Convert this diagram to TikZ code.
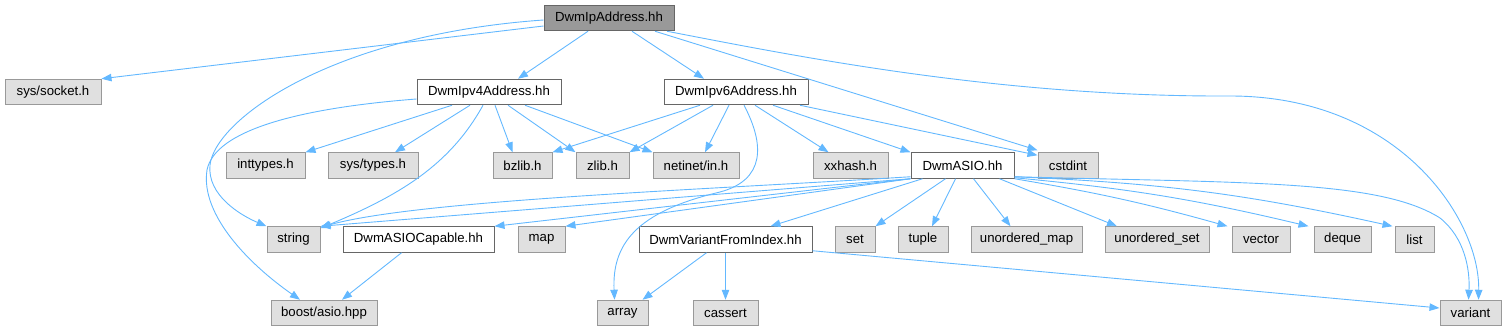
\documentclass[tikz,border=0pt]{standalone}
\usepackage{fontspec}
\setmainfont{Liberation Sans}
\usetikzlibrary{arrows.meta}
\definecolor{edgeblue}{HTML}{63B8FF}
\definecolor{grayfill}{HTML}{E0E0E0}
\definecolor{grayline}{HTML}{999999}
\definecolor{darkline}{HTML}{666666}
\definecolor{mainfill}{HTML}{999999}
\begin{document}
\begin{tikzpicture}[x=1pt,y=-1pt,
  box/.style={rectangle,inner sep=0pt,minimum height=25.5pt,line width=1pt,font=\fontsize{13.2}{15}\selectfont},
  sysbox/.style={box,fill=grayfill,draw=grayline},
  ownbox/.style={box,fill=white,draw=darkline},
  mainbox/.style={box,fill=mainfill,draw=darkline},
  e/.style={draw=edgeblue,line width=0.9pt,-{Triangle[length=10pt,width=7.5pt,fill=edgeblue]}}
]
\useasboundingbox (0,0) rectangle (1506,331);
% row 0
\node[mainbox,minimum width=130pt] (ipa) at (609,18) {DwmIpAddress.hh};
% row 1
\node[sysbox,minimum width=96pt] (sock) at (53,92) {sys/socket.h};
\node[ownbox,minimum width=144pt] (ipv4) at (489,92) {DwmIpv4Address.hh};
\node[ownbox,minimum width=144pt] (ipv6) at (736,92) {DwmIpv6Address.hh};
% row 2
\node[sysbox,minimum width=79pt] (int) at (265.5,165.5) {inttypes.h};
\node[sysbox,minimum width=90pt] (styp) at (373,165.5) {sys/types.h};
\node[sysbox,minimum width=59pt] (bz) at (522.5,165.5) {bzlib.h};
\node[sysbox,minimum width=53pt] (zl) at (602.5,165.5) {zlib.h};
\node[sysbox,minimum width=86pt] (net) at (696,165.5) {netinet/in.h};
\node[sysbox,minimum width=75pt] (xx) at (850.5,165.5) {xxhash.h};
\node[ownbox,minimum width=103pt] (asio) at (962.5,165.5) {DwmASIO.hh};
\node[sysbox,minimum width=60pt] (cst) at (1068,165.5) {cstdint};
% row 3
\node[sysbox,minimum width=53pt] (str) at (293.5,239.5) {string};
\node[ownbox,minimum width=151pt] (cap) at (418.5,239.5) {DwmASIOCapable.hh};
\node[sysbox,minimum width=47pt] (map) at (541.5,239.5) {map};
\node[ownbox,minimum width=173pt] (vfi) at (725.5,239.5) {DwmVariantFromIndex.hh};
\node[sysbox,minimum width=40pt] (set) at (855,239.5) {set};
\node[sysbox,minimum width=50pt] (tup) at (923,239.5) {tuple};
\node[sysbox,minimum width=111pt] (umap) at (1026.5,239.5) {unordered\_map};
\node[sysbox,minimum width=104pt] (uset) at (1157,239.5) {unordered\_set};
\node[sysbox,minimum width=58pt] (vec) at (1261,239.5) {vector};
\node[sysbox,minimum width=57pt] (deq) at (1342.5,239.5) {deque};
\node[sysbox,minimum width=39pt] (lst) at (1414.5,239.5) {list};
% row 4
\node[sysbox,minimum width=106pt] (boost) at (324,313) {boost/asio.hpp};
\node[sysbox,minimum width=51pt] (arr) at (622.5,313) {array};
\node[sysbox,minimum width=65pt] (cas) at (725.5,313) {cassert};
\node[sysbox,minimum width=61pt] (var) at (1470.5,313) {variant};

% edges from DwmIpAddress.hh
\draw[e] ([yshift=-8pt]ipa.west) -- (sock.north east);
\draw[e] ([yshift=-2pt]ipa.west) .. controls (330,35) and (215,120) .. (210,165) .. controls (207,195) and (240,215) .. (str.north west);
\draw[e] ([xshift=-21pt]ipa.south) -- ([xshift=29pt]ipv4.north);
\draw[e] ([xshift=23pt]ipa.south) -- ([xshift=-32pt]ipv6.north);
\draw[e] ([xshift=46pt]ipa.south) -- ([yshift=2pt]cst.north west);
\draw[e] ([xshift=58pt]ipa.south) .. controls (800,57) and (1000,97) .. (1230,96) .. controls (1400,96) and (1480,220) .. ([xshift=8pt]var.north);
% edges from DwmIpv4Address.hh
\draw[e] ([yshift=-7pt]ipv4.west) .. controls (300,108) and (215,130) .. (207,170) .. controls (200,215) and (250,265) .. ([xshift=-24pt]boost.north);
\draw[e] ([xshift=-37pt]ipv4.south) -- (int.north east);
\draw[e] ([xshift=-19pt]ipv4.south) -- ([xshift=22pt]styp.north);
\draw[e] ([xshift=-6pt]ipv4.south) .. controls (450,165) and (400,195) .. ([yshift=-2pt]str.north east);
\draw[e] ([xshift=6pt]ipv4.south) -- ([xshift=-10pt]bz.north);
\draw[e] ([xshift=19pt]ipv4.south) -- (zl.north west);
\draw[e] ([xshift=36pt]ipv4.south) -- (net.north west);
% edges from DwmIpv6Address.hh
\draw[e] ([xshift=-36pt]ipv6.south) -- (bz.north east);
\draw[e] ([xshift=-23pt]ipv6.south) -- (zl.north east);
\draw[e] ([xshift=-7pt]ipv6.south) -- ([xshift=9pt]net.north);
\draw[e] ([xshift=8pt]ipv6.south) .. controls (765,145) and (765,180) .. (720,192) .. controls (635,212) and (612,245) .. ([xshift=-8pt]arr.north);
\draw[e] ([xshift=19pt]ipv6.south) -- ([xshift=-22pt]xx.north);
\draw[e] ([xshift=37pt]ipv6.south) -- (asio.north west);
\draw[e] ([xshift=64pt]ipv6.south) -- ([yshift=-3pt]cst.north west);
% edges from DwmASIO.hh
\draw[e] ([yshift=2pt]asio.south west) .. controls (700,190) and (420,200) .. ([yshift=-1pt]str.north east);
\draw[e] (asio.south west) -- (str.north east);
\draw[e] (asio.south west) -- (cap.north east);
\draw[e] (asio.south west) -- (map.north east);
\draw[e] ([xshift=-40pt]asio.south) -- ([xshift=45pt]vfi.north);
\draw[e] ([xshift=-17pt]asio.south) -- (set.north east);
\draw[e] ([xshift=-7pt]asio.south) -- ([xshift=9pt]tup.north);
\draw[e] ([xshift=11pt]asio.south) -- ([xshift=-16pt]umap.north);
\draw[e] ([xshift=37pt]asio.south) -- ([xshift=-40pt]uset.north);
\draw[e] (asio.south east) to[bend left=3] ([xshift=-4pt]vec.north west);
\draw[e] ([yshift=1pt]asio.south east) to[bend left=4] ([xshift=-5pt]deq.north west);
\draw[e] ([yshift=2pt]asio.south east) to[bend left=5] ([xshift=-2pt]lst.north west);
\draw[e] ([yshift=2pt]asio.south east) .. controls (1250,183) and (1380,180) .. (1440,218) .. controls (1465,238) and (1470,270) .. ([xshift=-2pt]var.north);
% other edges
\draw[e] ([xshift=-17pt]cap.south) -- ([xshift=18pt]boost.north);
\draw[e] ([xshift=-19pt]vfi.south) -- ([xshift=20pt]arr.north);
\draw[e] (vfi.south) -- (cas.north);
\draw[e] ([yshift=2pt]vfi.south east) -- ([yshift=5pt]var.west);
\end{tikzpicture}
\end{document}
